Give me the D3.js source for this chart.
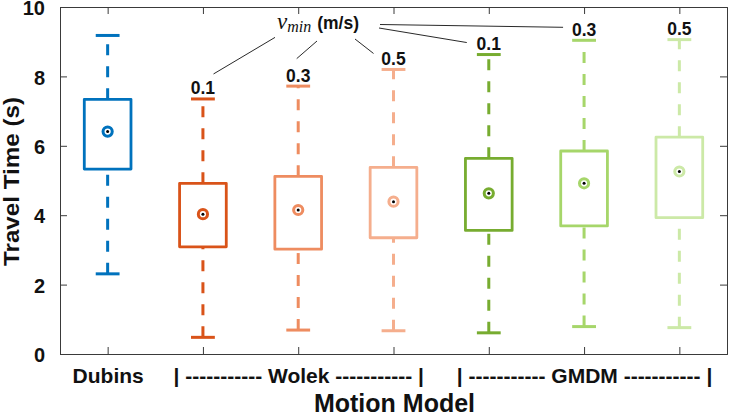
<!DOCTYPE html>
<html>
<head>
<meta charset="utf-8">
<script src="https://cdn.jsdelivr.net/npm/d3@7"></script>
<style>
  html, body { margin: 0; padding: 0; background: #fff; }
  svg { display: block; }
</style>
</head>
<body>
<svg id="chart" width="731" height="417"></svg>
<script>
// ---- data ----
const groups = ["Dubins", "Wolek", "Wolek", "Wolek", "GMDM", "GMDM", "GMDM"];
const vminLabels = ["", "0.1", "0.3", "0.5", "0.1", "0.3", "0.5"];
const whiskerLow  = [2.31, 0.48, 0.69, 0.67, 0.61, 0.79, 0.76];
const q1          = [5.33, 3.09, 3.02, 3.35, 3.56, 3.69, 3.93];
const medians     = [6.41, 4.03, 4.15, 4.39, 4.63, 4.92, 5.26];
const q3          = [7.34, 4.92, 5.12, 5.38, 5.64, 5.85, 6.25];
const whiskerHigh = [9.18, 7.35, 7.72, 8.20, 8.63, 9.04, 9.06];
const colors = ["#0072BD", "#D95319", "#EE8C60", "#F5AE8D", "#77AC30", "#A6D66A", "#CCE9A7"];
const xTickLabels = ["Dubins", "", "| ----------- Wolek ----------- |", "", "", "| ----------- GMDM ----------- |", ""];
const yTicks = [0, 2, 4, 6, 8, 10];

(function () {
// ---- layout ----
const svg = d3.select("#chart");
const mLeft = 60, mRight = 727, mTop = 7, mBottom = 354;
const positions = d3.range(1, groups.length + 1);
const x = d3.scaleLinear().domain([0.5, 7.5]).range([mLeft, mRight]);
const y = d3.scaleLinear().domain([0, 10]).range([mBottom, mTop]);
const boxW = 0.49, capW = 0.25;
const sansBold = "'Liberation Sans', Arial, Helvetica, sans-serif";
const axisColor = "#3a3a3a";

// axes (ticks inside)
const gL = svg.append("g").attr("transform", `translate(${mLeft},0)`)
  .call(d3.axisLeft(y).tickValues(yTicks).tickSize(-7).tickPadding(15).tickFormat(d3.format("d")));
const gR = svg.append("g").attr("transform", `translate(${mRight},0)`)
  .call(d3.axisRight(y).tickValues(yTicks).tickSize(-7).tickFormat(""));
const gB = svg.append("g").attr("transform", `translate(0,${mBottom})`)
  .call(d3.axisBottom(x).tickValues(positions).tickSize(-7).tickPadding(11).tickFormat((d, i) => xTickLabels[i]));
const gT = svg.append("g").attr("transform", `translate(0,${mTop})`)
  .call(d3.axisTop(x).tickValues(positions).tickSize(-7).tickFormat(""));
[gL, gR, gB, gT].forEach(g => {
  g.select(".domain").attr("stroke", axisColor).attr("stroke-width", 1);
  g.selectAll(".tick line").attr("stroke", axisColor).attr("stroke-width", 1);
  g.selectAll(".tick text").attr("fill", "#111").attr("font-family", sansBold)
    .attr("font-weight", "bold");
});
gL.selectAll(".tick text").attr("font-size", 20).attr("dy", "0.38em");
gB.selectAll(".tick text").attr("font-size", 21).attr("dy", "0.85em").attr("text-anchor", "middle");

// axis titles
svg.append("text")
  .attr("transform", `translate(${mLeft - 41},${(mTop + mBottom) / 2 + 1}) rotate(-90) scale(1.1,1)`)
  .attr("text-anchor", "middle")
  .attr("font-family", sansBold).attr("font-weight", "bold").attr("font-size", 22)
  .attr("fill", "#111")
  .text("Travel Time (s)");
svg.append("text")
  .attr("x", (mLeft + mRight) / 2 + 1).attr("y", 412)
  .attr("text-anchor", "middle")
  .attr("font-family", sansBold).attr("font-weight", "bold").attr("font-size", 25)
  .attr("fill", "#111")
  .text("Motion Model");

// boxes
const g = svg.append("g");
positions.forEach((p, i) => {
  const c = colors[i];
  const bx = g.append("g");
  bx.append("line").attr("x1", x(p)).attr("x2", x(p))
    .attr("y1", y(whiskerLow[i])).attr("y2", y(q1[i]))
    .attr("stroke", c).attr("stroke-width", 3).attr("stroke-dasharray", "11,11");
  bx.append("line").attr("x1", x(p)).attr("x2", x(p))
    .attr("y1", y(q3[i])).attr("y2", y(whiskerHigh[i]))
    .attr("stroke", c).attr("stroke-width", 3).attr("stroke-dasharray", "11,11");
  [whiskerLow[i], whiskerHigh[i]].forEach(v => {
    bx.append("line").attr("x1", x(p - capW / 2)).attr("x2", x(p + capW / 2))
      .attr("y1", y(v)).attr("y2", y(v))
      .attr("stroke", c).attr("stroke-width", 3);
  });
  bx.append("rect")
    .attr("x", x(p - boxW / 2)).attr("width", x(p + boxW / 2) - x(p - boxW / 2))
    .attr("y", y(q3[i])).attr("height", y(q1[i]) - y(q3[i]))
    .attr("fill", "none").attr("stroke", c).attr("stroke-width", 2.8)
    .attr("stroke-linejoin", "round");
  bx.append("circle").attr("cx", x(p)).attr("cy", y(medians[i])).attr("r", 4.6)
    .attr("fill", "#fff").attr("stroke", c).attr("stroke-width", 3);
  bx.append("circle").attr("cx", x(p)).attr("cy", y(medians[i])).attr("r", 1.5)
    .attr("fill", "#000");
  if (vminLabels[i]) {
    g.append("text").attr("x", x(p)).attr("y", y(whiskerHigh[i]) - 4.5)
      .attr("text-anchor", "middle")
      .attr("font-family", sansBold).attr("font-weight", "bold").attr("font-size", 17.5)
      .attr("fill", "#111").text(vminLabels[i]);
  }
});

// annotation "v_min (m/s)"
const annX = 277, annY = 29;
const ann = svg.append("text").attr("x", annX).attr("y", annY).attr("fill", "#111");
ann.append("tspan").attr("font-family", "'Liberation Serif', 'DejaVu Serif', serif")
  .attr("font-style", "italic").attr("font-size", 23).text("v");
ann.append("tspan").attr("font-family", "'Liberation Serif', 'DejaVu Serif', serif")
  .attr("font-style", "italic").attr("font-size", 16).attr("dy", 3).text("min");
ann.append("tspan").attr("font-family", sansBold).attr("font-weight", "bold")
  .attr("font-size", 17.5).attr("dy", -3).attr("dx", 6).text("(m/s)");

// leader lines
const annC = 325;
const leaderStart = [[-50, 8.4], [-8, 12], [30, 10], [54, -1], [55, -4.5]];
const leaderEnd = [[10.6, -25], [-1.5, -27.5], [-20, -16], [-22, -12], [-21, -13]];
[1, 2, 3, 4, 5].forEach((idx, k) => {
  const p = positions[idx];
  svg.append("line")
    .attr("x1", annC + leaderStart[k][0]).attr("y1", annY + leaderStart[k][1])
    .attr("x2", x(p) + leaderEnd[k][0]).attr("y2", y(whiskerHigh[idx]) + leaderEnd[k][1])
    .attr("stroke", "#111").attr("stroke-width", 0.9);
});
})();
</script>
</body>
</html>
